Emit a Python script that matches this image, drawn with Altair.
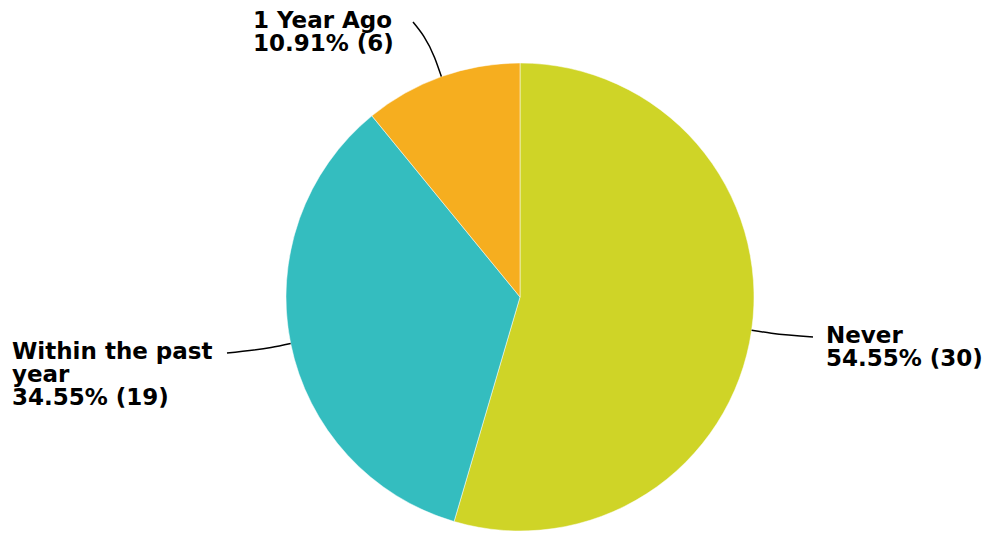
import math
import altair as alt
import pandas as pd

# ---- data ----
categories = ["Never", "Within the past year", "1 Year Ago"]
counts = [30, 19, 6]
colors = ["#CFD427", "#34BDBF", "#F6AE1F"]
label_names = ["Never", "Within the past\nyear", "1 Year Ago"]

# ---- layout constants (plot coordinates, page minus 8px margin) ----
W, H = 976, 525
CX, CY, R = 512, 289, 234
label_pos = {  # left x, first baseline y
    "Never": (818, 335),
    "Within the past year": (4, 351),
    "1 Year Ago": (245, 20),
}
conn_end = {
    "Never": (805, 329),
    "Within the past year": (219, 345),
    "1 Year Ago": (405, 14),
}

total = sum(counts)
df = pd.DataFrame({
    "cat": categories,
    "count": counts,
    "idx": list(range(len(categories))),
})
df["text"] = [f"{n}\n{c / total * 100:.2f}% ({c})" for n, c in zip(label_names, counts)]
df["lx"] = [label_pos[c][0] for c in categories]
df["ly"] = [label_pos[c][1] for c in categories]

# connector lines: from slice edge (mid-angle) via a point slightly outside to label
rows = []
cum = 0
for c, v in zip(categories, counts):
    mid = (cum + v / 2) / total * 2 * math.pi
    cum += v
    ex, ey = CX + R * math.sin(mid), CY - R * math.cos(mid)
    ox, oy = CX + (R + 20) * math.sin(mid), CY - (R + 20) * math.cos(mid)
    tx, ty = conn_end[c]
    for px, py in [(ex, ey), (ox, oy), (tx, ty)]:
        rows.append({"cat": c, "px": px, "py": py})
lines_df = pd.DataFrame(rows)

pie = alt.Chart(df).mark_arc(outerRadius=R, stroke="#ffffff", strokeWidth=0.5).encode(
    theta=alt.Theta("count:Q", stack=True),
    order=alt.Order("idx:Q"),
    color=alt.Color("cat:N", scale=alt.Scale(domain=categories, range=colors), legend=None),
    x=alt.value(CX),
    y=alt.value(CY),
)

connectors = alt.Chart(lines_df).mark_line(
    color="black", strokeWidth=1.5, interpolate="monotone"
).encode(
    x=alt.X("px:Q", scale=None, axis=None),
    y=alt.Y("py:Q", scale=None, axis=None),
    detail="cat:N",
    order=alt.Order("px:Q"),
)

labels = alt.Chart(df).mark_text(
    align="left", baseline="alphabetic", font="DejaVu Sans", fontWeight="bold",
    fontSize=23, lineHeight=23, color="#000000", lineBreak="\n",
).encode(
    x=alt.X("lx:Q", scale=None, axis=None),
    y=alt.Y("ly:Q", scale=None, axis=None),
    text="text:N",
)

chart = alt.layer(pie, connectors, labels).properties(
    width=W, height=H, padding=0, autosize="none", background="#ffffff"
).configure_view(stroke=None)

chart.save("out.html", embed_options={"renderer": "svg", "actions": False})
